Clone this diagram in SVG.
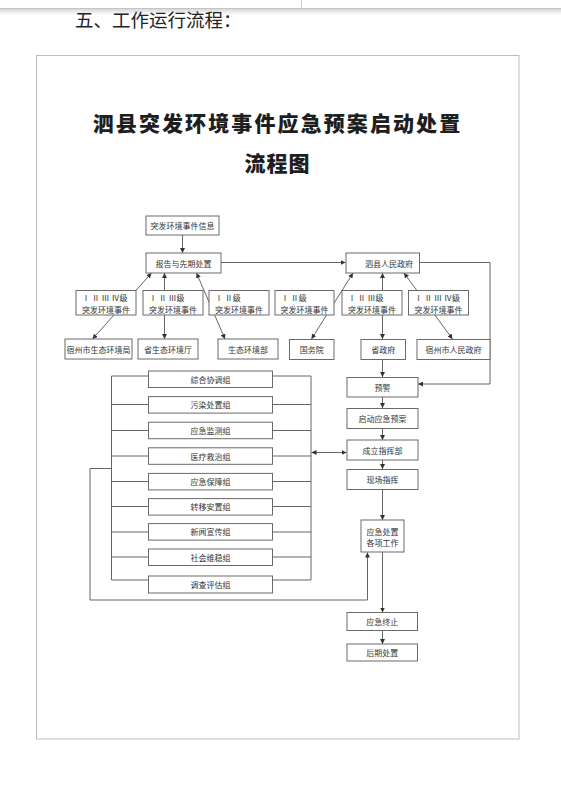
<svg xmlns="http://www.w3.org/2000/svg" width="561" height="790" viewBox="0 0 561 790">
<defs>
<style>
.bx{fill:#fff;stroke:#6a6a6a;stroke-width:1}
.t{font-family:"Noto Sans CJK SC","Noto Sans",sans-serif;font-size:8px;fill:#333;text-anchor:middle;dominant-baseline:central}
.tl{text-anchor:start}
.ln{fill:none;stroke:#555;stroke-width:0.9}
</style>
<marker id="ah" viewBox="0 0 8 8" refX="8" refY="4" markerWidth="5" markerHeight="5" markerUnits="userSpaceOnUse" orient="auto-start-reverse">
<path d="M0,0 L8,4 L0,8 z" fill="#333"/>
</marker>
<linearGradient id="sh" x1="0" y1="0" x2="0" y2="1">
<stop offset="0" stop-color="#d8d8d8"/>
<stop offset="1" stop-color="#ffffff"/>
</linearGradient>
</defs>
<rect width="561" height="790" fill="#fff"/>
<rect x="0" y="9" width="561" height="6" fill="url(#sh)"/>
<line x1="0" y1="8.5" x2="561" y2="8.5" stroke="#c4c4c4" stroke-width="1"/>
<line x1="301.5" y1="0" x2="301.5" y2="8" stroke="#ccc" stroke-width="1"/>
<text x="75" y="26.5" font-family="'Noto Sans CJK SC',sans-serif" font-size="18.5" fill="#222">五、工作运行流程：</text>
<rect x="36.5" y="55.5" width="482.5" height="683.5" fill="none" stroke="#bdbdbd" stroke-width="1"/>
<text x="277.5" y="131" font-family="'Noto Sans CJK SC',sans-serif" font-size="21" font-weight="900" letter-spacing="2.1" text-anchor="middle" fill="#1e1e1e">泗县突发环境事件应急预案启动处置</text>
<text x="277.5" y="171" font-family="'Noto Sans CJK SC',sans-serif" font-size="21" font-weight="900" letter-spacing="1" text-anchor="middle" fill="#1e1e1e">流程图</text>

<g id="connectors">
<path class="ln" d="M182.5,235 V253" marker-end="url(#ah)"/>
<path class="ln" d="M221,262.5 H345.5" marker-end="url(#ah)"/>
<path class="ln" d="M151.5,273 L92.5,339" marker-start="url(#ah)" marker-end="url(#ah)"/>
<path class="ln" d="M164.5,273 V339" marker-start="url(#ah)" marker-end="url(#ah)"/>
<path class="ln" d="M196.5,273 L225,339" marker-start="url(#ah)" marker-end="url(#ah)"/>
<path class="ln" d="M353,273 L311.5,339" marker-start="url(#ah)" marker-end="url(#ah)"/>
<path class="ln" d="M382.5,273 V339" marker-start="url(#ah)" marker-end="url(#ah)"/>
<path class="ln" d="M404,273 L452.5,339" marker-start="url(#ah)" marker-end="url(#ah)"/>
<path class="ln" d="M419.5,262.5 H490 V384 H418" marker-end="url(#ah)"/>
<path class="ln" d="M382.5,359.5 V377" marker-end="url(#ah)"/>
<path class="ln" d="M382.5,397 V408" marker-end="url(#ah)"/>
<path class="ln" d="M382.5,428.5 V440" marker-end="url(#ah)"/>
<path class="ln" d="M382.5,460 V469" marker-end="url(#ah)"/>
<path class="ln" d="M382.5,489.5 V520" marker-end="url(#ah)"/>
<path class="ln" d="M382.5,552 V612.5" marker-end="url(#ah)"/>
<path class="ln" d="M382.5,630.5 V644" marker-end="url(#ah)"/>
<path class="ln" d="M346.5,452.5 H311.5" marker-start="url(#ah)" marker-end="url(#ah)"/>
<path class="ln" d="M111.5,376 V580 M311,376 V580"/>
<path class="ln" d="M111.5,376 H148.5 M272.5,376 H311 M111.5,404.5 H148.5 M272.5,404.5 H311 M111.5,430.5 H148.5 M272.5,430.5 H311 M111.5,456 H148.5 M272.5,456 H311 M111.5,481.5 H148.5 M272.5,481.5 H311 M111.5,506.5 H148.5 M272.5,506.5 H311 M111.5,532 H148.5 M272.5,532 H311 M111.5,557 H148.5 M272.5,557 H311 M111.5,580 H148.5 M272.5,580 H311"/>
<path class="ln" d="M111.5,468.5 H90 V600 H367.5 V552.5" marker-end="url(#ah)"/>
</g>

<g id="n-info"><rect class="bx" x="146" y="216" width="73" height="19"/><text class="t" x="182.5" y="225.5">突发环境事件信息</text></g>
<g id="n-report"><rect class="bx" x="146" y="253" width="75" height="20"/><text class="t" x="183.5" y="263">报告与先期处置</text></g>
<g id="n-gov"><rect class="bx" x="346" y="253" width="73.5" height="20"/><text class="t" x="389" y="263">泗县人民政府</text></g>

<g id="n-l1"><rect class="bx" x="76" y="290.5" width="60" height="24.5"/><text class="t tl" x="82" y="297.5">Ⅰ Ⅱ Ⅲ Ⅳ级</text><text class="t" x="106" y="309">突发环境事件</text></g>
<g id="n-l2"><rect class="bx" x="143" y="290.5" width="60" height="24.5"/><text class="t tl" x="149" y="297.5">Ⅰ Ⅱ Ⅲ级</text><text class="t" x="173" y="309">突发环境事件</text></g>
<g id="n-l3"><rect class="bx" x="209" y="290.5" width="60" height="24.5"/><text class="t tl" x="215" y="297.5">Ⅰ Ⅱ级</text><text class="t" x="239" y="309">突发环境事件</text></g>
<g id="n-l4"><rect class="bx" x="275" y="290.5" width="59" height="24.5"/><text class="t tl" x="281" y="297.5">Ⅰ Ⅱ级</text><text class="t" x="304.5" y="309">突发环境事件</text></g>
<g id="n-l5"><rect class="bx" x="342" y="290.5" width="60" height="24.5"/><text class="t tl" x="348" y="297.5">Ⅰ Ⅱ Ⅲ级</text><text class="t" x="372" y="309">突发环境事件</text></g>
<g id="n-l6"><rect class="bx" x="408.5" y="290.5" width="60" height="24.5"/><text class="t tl" x="414.5" y="297.5">Ⅰ Ⅱ Ⅲ Ⅳ级</text><text class="t" x="438.5" y="309">突发环境事件</text></g>

<g id="n-suzhou-eco"><rect class="bx" x="65" y="339" width="67" height="20"/><text class="t" x="98.5" y="349">宿州市生态环境局</text></g>
<g id="n-prov-eco"><rect class="bx" x="138" y="339" width="60" height="20"/><text class="t" x="168" y="349">省生态环境厅</text></g>
<g id="n-eco-min"><rect class="bx" x="218" y="339" width="60" height="20"/><text class="t" x="248" y="349">生态环境部</text></g>
<g id="n-state"><rect class="bx" x="289.5" y="339.5" width="44.5" height="20"/><text class="t" x="311.7" y="349.5">国务院</text></g>
<g id="n-prov-gov"><rect class="bx" x="361" y="339.5" width="44.5" height="20"/><text class="t" x="383.2" y="349.5">省政府</text></g>
<g id="n-suzhou-gov"><rect class="bx" x="417" y="339.5" width="73" height="20"/><text class="t" x="453.5" y="349.5">宿州市人民政府</text></g>

<g id="n-g1"><rect class="bx" x="148.5" y="371" width="124" height="16.5"/><text class="t" x="210.5" y="379.2">综合协调组</text></g>
<g id="n-g2"><rect class="bx" x="148.5" y="396.6" width="124" height="16.5"/><text class="t" x="210.5" y="404.8">污染处置组</text></g>
<g id="n-g3"><rect class="bx" x="148.5" y="422.2" width="124" height="16.5"/><text class="t" x="210.5" y="430.4">应急监测组</text></g>
<g id="n-g4"><rect class="bx" x="148.5" y="447.8" width="124" height="16.5"/><text class="t" x="210.5" y="456">医疗救治组</text></g>
<g id="n-g5"><rect class="bx" x="148.5" y="473.4" width="124" height="16.5"/><text class="t" x="210.5" y="481.6">应急保障组</text></g>
<g id="n-g6"><rect class="bx" x="148.5" y="498.6" width="124" height="16.5"/><text class="t" x="210.5" y="506.8">转移安置组</text></g>
<g id="n-g7"><rect class="bx" x="148.5" y="523.6" width="124" height="16.5"/><text class="t" x="210.5" y="531.8">新闻宣传组</text></g>
<g id="n-g8"><rect class="bx" x="148.5" y="549" width="124" height="16.5"/><text class="t" x="210.5" y="557.2">社会维稳组</text></g>
<g id="n-g9"><rect class="bx" x="148.5" y="576" width="124" height="17"/><text class="t" x="210.5" y="584.5">调查评估组</text></g>

<g id="n-warn"><rect class="bx" x="347" y="377.5" width="71" height="19.5"/><text class="t" x="382.5" y="387.2">预警</text></g>
<g id="n-start"><rect class="bx" x="347" y="408.5" width="71" height="20"/><text class="t" x="382.5" y="418.5">启动应急预案</text></g>
<g id="n-hq"><rect class="bx" x="347" y="440" width="71" height="20"/><text class="t" x="382.5" y="450">成立指挥部</text></g>
<g id="n-site"><rect class="bx" x="347" y="469.5" width="71" height="20"/><text class="t" x="382.5" y="479.5">现场指挥</text></g>
<g id="n-work"><rect class="bx" x="361" y="520" width="43" height="32"/><text class="t" x="382.5" y="531">应急处置</text><text class="t" x="382.5" y="542">各项工作</text></g>
<g id="n-end"><rect class="bx" x="347" y="612.5" width="70.5" height="18"/><text class="t" x="382.2" y="621.5">应急终止</text></g>
<g id="n-post"><rect class="bx" x="347" y="644" width="70.5" height="17"/><text class="t" x="382.2" y="652.5">后期处置</text></g>
</svg>
